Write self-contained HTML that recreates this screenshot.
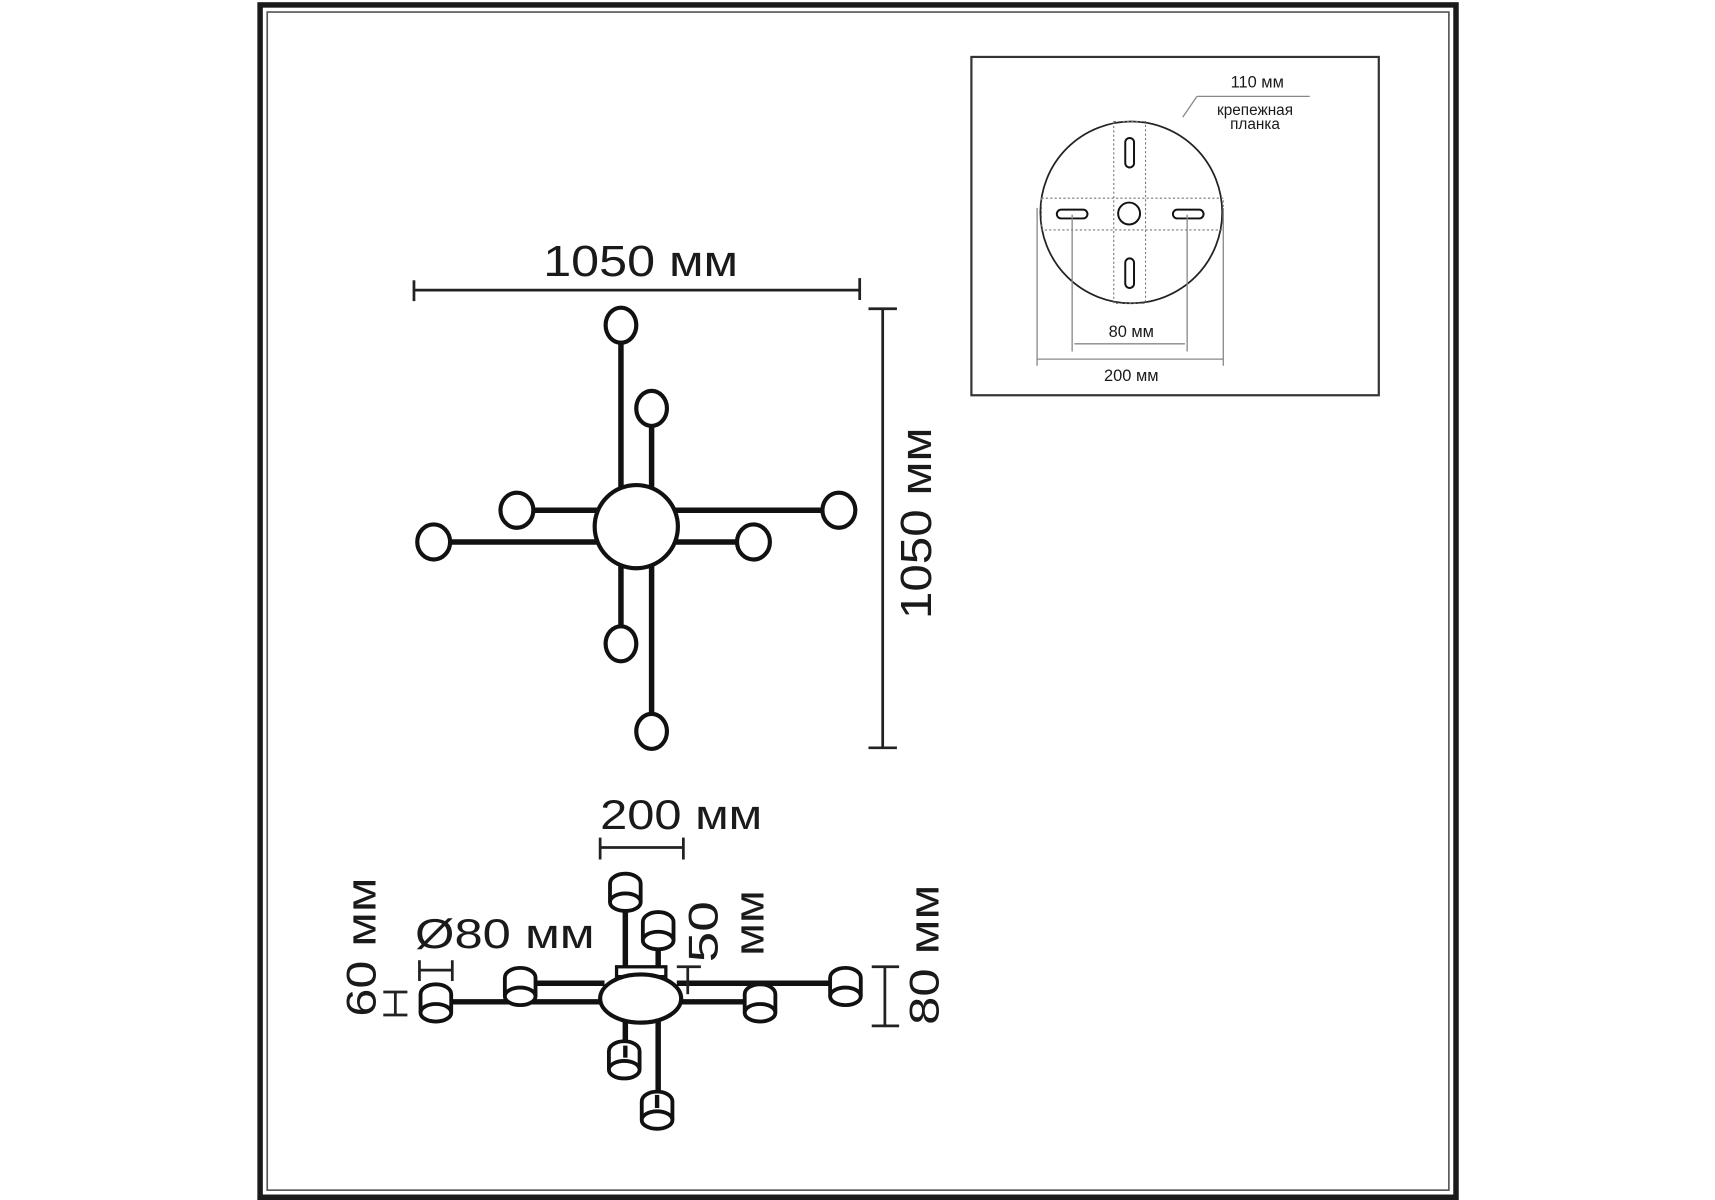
<!DOCTYPE html>
<html><head><meta charset="utf-8"><style>
html,body{margin:0;padding:0;background:#fff;}
svg{display:block;}
text{font-family:"Liberation Sans",sans-serif;fill:#1a1a1a;}
</style></head><body>
<svg width="1715" height="1200" viewBox="0 0 1566 1096" preserveAspectRatio="none" xmlns="http://www.w3.org/2000/svg">
<defs>
<g id="cyl">
<path d="M-14,9 V-8 A14,9 0 0 1 14,-8 V9" fill="#fff" stroke="#111" stroke-width="3.5"/>
<ellipse cx="0" cy="9" rx="14" ry="8" fill="#fff" stroke="#111" stroke-width="3.5"/>
</g>
</defs>
<!-- frame -->
<rect x="237.5" y="4.5" width="1092" height="1089" fill="none" stroke="#1a1a1a" stroke-width="5"/>
<rect x="244" y="11" width="1079" height="1076" fill="none" stroke="#555" stroke-width="1.5"/>

<!-- inset -->
<rect x="887" y="52" width="372" height="309" fill="none" stroke="#333" stroke-width="2"/>
<circle cx="1033" cy="194" r="83" fill="none" stroke="#222" stroke-width="1.6"/>
<g fill="none" stroke="#777" stroke-width="1" stroke-dasharray="2,2">
<rect x="1017" y="111" width="29" height="166"/>
<rect x="951" y="181" width="166" height="29"/>
</g>
<g fill="#fff" stroke="#111" stroke-width="1.8">
<rect x="1027.5" y="126" width="8" height="27" rx="4"/>
<rect x="1027.5" y="236" width="8" height="27" rx="4"/>
<rect x="965" y="191.5" width="28" height="8" rx="4"/>
<rect x="1071" y="191.5" width="28" height="8" rx="4"/>
<circle cx="1031" cy="195" r="10"/>
</g>
<g stroke="#888" stroke-width="1.2" fill="none">
<line x1="979" y1="196" x2="979" y2="321"/>
<line x1="1084" y1="196" x2="1084" y2="321"/>
<line x1="981" y1="314" x2="1082" y2="314"/>
<line x1="947" y1="190" x2="947" y2="334"/>
<line x1="1117" y1="190" x2="1117" y2="334"/>
<line x1="947" y1="328" x2="1117" y2="328"/>
<line x1="1093" y1="88" x2="1196" y2="88"/>
<line x1="1093" y1="88" x2="1080" y2="107"/>
</g>
<text x="1033" y="308" font-size="15" text-anchor="middle">80 мм</text>
<text x="1033" y="348" font-size="15" text-anchor="middle">200 мм</text>
<text x="1148" y="80" font-size="15" text-anchor="middle">110 мм</text>
<text x="1146" y="105" font-size="14" text-anchor="middle">крепежная</text>
<text x="1146" y="118" font-size="14" text-anchor="middle">планка</text>

<!-- top view dims -->
<g stroke="#222" stroke-width="2.5" fill="none">
<line x1="377" y1="265" x2="785" y2="265"/>
<line x1="378" y1="256" x2="378" y2="275"/>
<line x1="785" y1="254" x2="785" y2="274"/>
<line x1="806" y1="282" x2="806" y2="683"/>
<line x1="793" y1="282" x2="819" y2="282"/>
<line x1="793" y1="683" x2="819" y2="683"/>
</g>
<text x="585" y="252" font-size="40" text-anchor="middle" textLength="178" lengthAdjust="spacingAndGlyphs">1050 мм</text>
<text transform="translate(850,478) rotate(-90)" font-size="40" text-anchor="middle" textLength="175" lengthAdjust="spacingAndGlyphs">1050 мм</text>

<!-- top view fixture -->
<g stroke="#111" stroke-width="5" fill="none">
<line x1="567" y1="310" x2="567" y2="450"/>
<line x1="595" y1="388" x2="595" y2="450"/>
<line x1="567" y1="512" x2="567" y2="573"/>
<line x1="595" y1="512" x2="595" y2="652"/>
<line x1="410" y1="495" x2="550" y2="495"/>
<line x1="486" y1="466" x2="550" y2="466"/>
<line x1="612" y1="466" x2="752" y2="466"/>
<line x1="612" y1="495" x2="674" y2="495"/>
</g>
<g stroke="#111" stroke-width="3.8" fill="#fff">
<circle cx="581" cy="481" r="38"/>
<ellipse cx="567" cy="297" rx="14" ry="16"/>
<ellipse cx="595" cy="373" rx="14" ry="16"/>
<ellipse cx="567" cy="588" rx="14" ry="16"/>
<ellipse cx="595" cy="668" rx="14" ry="16"/>
<ellipse cx="396" cy="495" rx="15" ry="16"/>
<ellipse cx="472" cy="466" rx="15" ry="16"/>
<ellipse cx="766" cy="466" rx="15" ry="16"/>
<ellipse cx="688" cy="495" rx="15" ry="16"/>
</g>

<!-- side view -->
<g stroke="#111" stroke-width="5" fill="none">
<line x1="571" y1="830" x2="571" y2="892"/>
<line x1="601" y1="866" x2="601" y2="892"/>
<line x1="571" y1="930" x2="571" y2="962"/>
<line x1="601" y1="930" x2="601" y2="1008"/>
<line x1="475" y1="898" x2="552" y2="898"/>
<line x1="398" y1="915" x2="552" y2="915"/>
<line x1="618" y1="898" x2="772" y2="898"/>
<line x1="618" y1="915" x2="694" y2="915"/>
</g>
<rect x="563" y="883" width="45" height="9" fill="#fff" stroke="#111" stroke-width="3"/>
<ellipse cx="585" cy="912" rx="37" ry="22" fill="#fff" stroke="#111" stroke-width="3.8"/>
<use href="#cyl" x="571" y="815"/>
<use href="#cyl" x="601" y="850"/>
<use href="#cyl" x="475" y="901"/>
<use href="#cyl" x="398" y="916"/>
<use href="#cyl" x="694" y="916"/>
<use href="#cyl" x="772" y="901"/>
<use href="#cyl" x="570" y="968"/>
<use href="#cyl" x="600" y="1014"/>
<line x1="571" y1="955" x2="571" y2="966" stroke="#111" stroke-width="4"/>
<line x1="600" y1="1000" x2="600" y2="1012" stroke="#111" stroke-width="4"/>

<!-- side view dims -->
<g stroke="#222" stroke-width="2.5" fill="none">
<line x1="548" y1="774" x2="624" y2="774"/>
<line x1="548" y1="765" x2="548" y2="785"/>
<line x1="624" y1="765" x2="624" y2="785"/>
<line x1="383" y1="886" x2="413" y2="886"/>
<line x1="383" y1="877" x2="383" y2="896"/>
<line x1="413" y1="877" x2="413" y2="896"/>
<line x1="361" y1="906" x2="361" y2="927"/>
<line x1="350" y1="906" x2="372" y2="906"/>
<line x1="350" y1="927" x2="372" y2="927"/>
<line x1="628" y1="883" x2="628" y2="908"/>
<line x1="618" y1="883" x2="640" y2="883"/>
<line x1="808" y1="883" x2="808" y2="937"/>
<line x1="796" y1="883" x2="821" y2="883"/>
<line x1="796" y1="937" x2="821" y2="937"/>
</g>
<text x="548" y="757" font-size="38" textLength="148" lengthAdjust="spacingAndGlyphs">200 мм</text>
<text x="379" y="866" font-size="38" textLength="164" lengthAdjust="spacingAndGlyphs">Ø80 мм</text>
<text transform="translate(343,865) rotate(-90)" font-size="38" text-anchor="middle" textLength="127" lengthAdjust="spacingAndGlyphs">60 мм</text>
<text transform="translate(655,851) rotate(-90)" font-size="38" text-anchor="middle" textLength="56" lengthAdjust="spacingAndGlyphs">50</text>
<text transform="translate(697,843) rotate(-90)" font-size="38" text-anchor="middle" textLength="60" lengthAdjust="spacingAndGlyphs">мм</text>
<text transform="translate(857,872) rotate(-90)" font-size="38" text-anchor="middle" textLength="128" lengthAdjust="spacingAndGlyphs">80 мм</text>
</svg>
</body></html>
